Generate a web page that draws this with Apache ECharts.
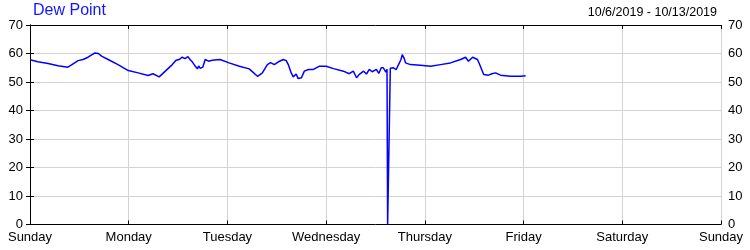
<!DOCTYPE html>
<html>
<head>
<meta charset="utf-8">
<script src="https://cdn.jsdelivr.net/npm/echarts@6/dist/echarts.min.js"></script>
<style>
html,body{margin:0;padding:0;background:#fff;}
#chart{width:750px;height:250px;}
</style>
</head>
<body>
<div id="chart"></div>
<script>
const dayLabels = ['Sunday','Monday','Tuesday','Wednesday','Thursday','Friday','Saturday','Sunday'];
const yTicks = [0,10,20,30,40,50,60,70];
// hours since Sunday 00:00
const hours = [0,1.9,4.4,6.8,9.2,10.0,11.7,12.9,14.1,15.8,16.6,17.5,19.0,21.4,23.9,26.3,28.7,29.9,31.4,32.9,
  34.6,35.5,36.3,37.0,37.7,38.4,38.9,39.5,40.2,40.7,41.0,41.4,42.0,42.6,43.4,44.3,46.2,48.4,50.9,53.3,
  55.3,56.5,57.7,58.5,59.4,60.4,61.6,62.3,62.8,63.5,64.0,64.7,65.2,66.0,66.7,67.7,68.9,70.3,72.0,73.8,
  76.2,77.6,78.6,79.4,80.0,81.1,81.8,82.5,83.2,84.2,84.8,85.4,85.9,86.5,86.8,86.95,87.35,87.6,88.4,89.0,
  89.6,90.2,90.5,91.0,91.3,92.5,94.9,97.4,99.8,102.2,104.7,105.9,106.6,107.6,108.8,109.5,110.3,111.5,112.3,113.2,
  114.4,116.8,119.3,120.5];
const dewPoint = [57.8,57.1,56.5,55.7,55.2,55.9,57.5,57.9,58.7,60.2,60.0,59.0,57.9,56.1,54.0,53.2,52.3,52.9,51.8,53.8,
  56.1,57.6,57.9,58.7,58.2,58.9,57.9,57.0,55.5,54.6,55.6,54.8,55.2,57.9,57.3,57.6,57.9,56.7,55.5,54.6,
  52.0,53.2,56.1,56.8,56.1,57.1,57.9,57.5,56.1,53.2,51.8,52.8,51.2,51.5,53.8,54.4,54.4,55.5,55.5,54.7,
  53.8,52.9,53.8,51.5,52.6,53.8,52.8,54.4,53.6,54.4,53.0,55.0,55.0,53.5,54.5,0,0,54.8,55.0,54.3,
  56.1,57.9,59.6,58.2,56.7,56.1,55.9,55.5,56.1,56.7,57.9,58.7,57.3,58.7,57.9,55.5,52.6,52.4,52.9,53.2,
  52.4,52.0,52.0,52.2];

const seriesData = hours.map((h, i) => [h, dewPoint[i]]);
const FONT = '"Liberation Sans", Arial, sans-serif';
const chart = echarts.init(document.getElementById('chart'), null, {renderer: 'canvas'});

const yAxisCommon = {
  type: 'value', min: yTicks[0], max: yTicks[yTicks.length - 1], interval: 10,
  axisLine: {show: true, lineStyle: {color: '#000', width: 1}},
  axisTick: {show: true, inside: true, length: 4, lineStyle: {color: '#000'}},
  axisLabel: {color: '#000', fontFamily: FONT, fontSize: 13, margin: 7},
  splitLine: {show: true, lineStyle: {color: '#d3d3d3', width: 1}}
};
const xAxisCommon = {
  type: 'value', min: 0, max: 168, interval: 24,
  axisLine: {show: true, onZero: false, lineStyle: {color: '#000', width: 1}},
  axisTick: {show: true, inside: true, length: 4, lineStyle: {color: '#000'}},
  splitLine: {show: true, lineStyle: {color: '#d3d3d3', width: 1}}
};

chart.setOption({
  animation: false,
  backgroundColor: '#fff',
  title: [
    {text: 'Dew Point', left: 33, top: 3, padding: 0, textStyle: {color: '#1414ff', fontFamily: FONT, fontSize: 16, fontWeight: 'normal'}},
    {text: '10/6/2019 - 10/13/2019', right: 33, top: 6, padding: 0, textStyle: {color: '#000', fontFamily: FONT, fontSize: 12.5, fontWeight: 'normal'}}
  ],
  grid: {left: 30, right: 29, top: 25, bottom: 25.5, containLabel: false},
  xAxis: [
    Object.assign({}, xAxisCommon, {
      position: 'bottom',
      axisLabel: {color: '#000', fontFamily: FONT, fontSize: 13, margin: 6, showMinLabel: true, showMaxLabel: true,
        formatter: v => dayLabels[Math.round(v / 24)]}
    }),
    Object.assign({}, xAxisCommon, {
      position: 'top', axisLabel: {show: false}, splitLine: {show: false}
    })
  ],
  yAxis: [
    Object.assign({}, yAxisCommon, {position: 'left'}),
    Object.assign({}, yAxisCommon, {position: 'right', splitLine: {show: false}})
  ],
  series: [{
    type: 'line',
    data: seriesData,
    showSymbol: false,
    symbol: 'none',
    lineStyle: {color: '#0000ff', width: 1.5},
    itemStyle: {color: '#0000ff'}
  }]
});
</script>
</body>
</html>
